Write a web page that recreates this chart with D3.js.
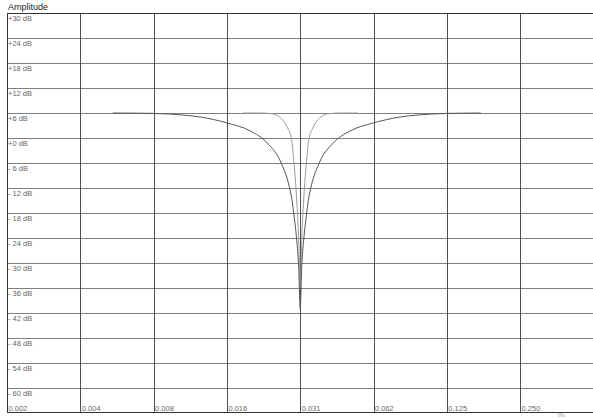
<!DOCTYPE html>
<html>
<head>
<meta charset="utf-8">
<script src="https://cdn.jsdelivr.net/npm/d3@7"></script>
<style>
  body { margin: 0; background: #fff; }
  text { font-family: "Liberation Sans", Arial, sans-serif; }
</style>
</head>
<body>
<div id="chart"></div>
<script>
// tick values (dB) and frequency ticks (fraction of fs)
const dbTicks = [30, 24, 18, 12, 6, 0, -6, -12, -18, -24, -30, -36, -42, -48, -54, -60];
const freqTicks = [1/512, 1/256, 1/128, 1/64, 1/32, 1/16, 1/8, 1/4];
const freqLabels = ["0.002", "0.004", "0.008", "0.016", "0.031", "0.062", "0.125", "0.250"];

// wide notch
const wideFreq = [0.005306, 0.006883, 0.007818, 0.010386, 0.012141, 0.015670, 0.019476, 0.022874,
  0.026111, 0.028214, 0.028919, 0.029387, 0.030234, 0.030810, 0.03125, 0.03170, 0.03230, 0.03323,
  0.03377, 0.03461, 0.03740, 0.04269, 0.05014, 0.06232, 0.08044, 0.09403, 0.12491, 0.14188, 0.1723];
const wideDb = [6.0, 5.95, 5.9, 5.5, 5.04, 3.6, 1.7, -1.2, -6, -11.8, -14.9, -18, -24.5, -31, -41,
  -31, -24.5, -18, -14.9, -11.8, -6, -1.2, 1.7, 3.6, 5.04, 5.5, 5.9, 5.95, 6.0];

// narrow notch
const narrowFreq = [0.018145, 0.021407, 0.024096, 0.025744, 0.027635, 0.028836, 0.029387, 0.029947,
  0.030234, 0.030810, 0.031015, 0.03125, 0.03149, 0.03170, 0.03230, 0.03261, 0.03323, 0.03387,
  0.03534, 0.03793, 0.04053, 0.04562, 0.05382];
const narrowDb = [6.0, 6.0, 5.8, 5.0, 2.6, -0.5, -5.3, -11, -14.9, -24.5, -30, -36,
  -30, -24.5, -14.9, -11, -5.3, -0.5, 2.6, 5.0, 5.8, 6.0, 6.0];

const W = 593, H = 418;
const plot = { left: 7, top: 13, right: 593.4, bottom: 413 };

const svg = d3.select("#chart").append("svg")
  .attr("width", W)
  .attr("height", H);

const x = d3.scaleLog().base(2)
  .domain([1/512, 1/2])
  .range([plot.left, plot.right]);

const y = d3.scaleLinear()
  .domain([-66, 30])
  .range([plot.bottom, plot.top]);

// title
svg.append("text")
  .attr("x", 8)
  .attr("y", 10)
  .attr("font-size", 9)
  .attr("fill", "#222")
  .text("Amplitude");

// horizontal grid
svg.selectAll("line.hgrid")
  .data(dbTicks)
  .enter()
  .append("line")
    .attr("class", "hgrid")
    .attr("x1", plot.left)
    .attr("x2", W)
    .attr("y1", d => Math.round(y(d)) + 0.5)
    .attr("y2", d => Math.round(y(d)) + 0.5)
    .attr("stroke", "#808080");

// vertical grid
svg.selectAll("line.vgrid")
  .data(freqTicks.slice(1))
  .enter()
  .append("line")
    .attr("class", "vgrid")
    .attr("x1", d => Math.round(x(d)) + 0.5)
    .attr("x2", d => Math.round(x(d)) + 0.5)
    .attr("y1", plot.top)
    .attr("y2", plot.bottom)
    .attr("stroke", "#505050");

// y labels
svg.selectAll("text.ylab")
  .data(dbTicks)
  .enter()
  .append("text")
    .attr("class", "ylab")
    .attr("x", 8)
    .attr("y", d => y(d) + 7.5)
    .attr("font-size", 7.5)
    .attr("fill", "#666")
    .text(d => (d > 0 ? "+" : d < 0 ? "- " : "+") + Math.abs(d) + " dB");

// x labels
svg.selectAll("text.xlab")
  .data(freqTicks)
  .enter()
  .append("text")
    .attr("class", "xlab")
    .attr("x", d => x(d) + 1.5)
    .attr("y", 411)
    .attr("font-size", 7.5)
    .attr("fill", "#666")
    .text((d, i) => freqLabels[i]);

svg.append("text")
  .attr("x", 558)
  .attr("y", 417)
  .attr("font-size", 5)
  .attr("fill", "#999")
  .text("f/fs");

// curves
const line = d3.line()
  .x(d => x(d[0]))
  .y(d => y(d[1]))
  .curve(d3.curveMonotoneX);

svg.append("path")
  .datum(narrowFreq.map((f, i) => [f, narrowDb[i]]))
  .attr("d", line)
  .attr("fill", "none")
  .attr("stroke", "#9a9a9a")
  .attr("stroke-width", 1);

svg.append("path")
  .datum(wideFreq.map((f, i) => [f, wideDb[i]]))
  .attr("d", line)
  .attr("fill", "none")
  .attr("stroke", "#555")
  .attr("stroke-width", 1);

// frame
svg.append("line")
  .attr("x1", plot.left + 0.5).attr("x2", plot.left + 0.5)
  .attr("y1", plot.top).attr("y2", plot.bottom)
  .attr("stroke", "#333");
svg.append("line")
  .attr("x1", plot.left).attr("x2", W)
  .attr("y1", plot.top + 0.5).attr("y2", plot.top + 0.5)
  .attr("stroke", "#333");
svg.append("line")
  .attr("x1", plot.left).attr("x2", W)
  .attr("y1", plot.bottom - 0.5).attr("y2", plot.bottom - 0.5)
  .attr("stroke", "#333");
</script>
</body>
</html>
